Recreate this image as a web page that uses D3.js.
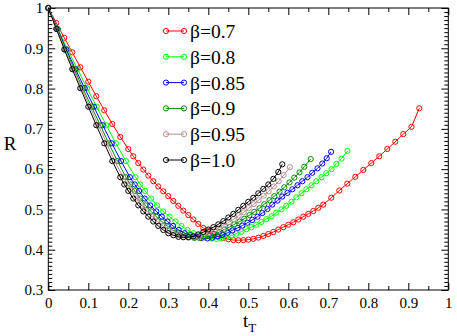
<!DOCTYPE html>
<html><head><meta charset="utf-8">
<script src="https://cdn.jsdelivr.net/npm/d3@7"></script>
<style>body{margin:0;background:#fff;} svg{display:block;}</style>
</head><body>
<svg id="c" width="457" height="336"></svg>
<script>
// ---- data ----
const seriesNames = ["β=0.7", "β=0.8", "β=0.85", "β=0.9", "β=0.95", "β=1.0"];
const seriesColors = ["#ff0000", "#00ff00", "#0000ff", "#008b00", "#bc8f8f", "#000000"];

const t07 = [0,.02,.04,.06,.08,.10,.12,.14,.16,.18,.20,.2125,.225,.2375,.25,.2625,.275,.2875,.30,.3125,.325,.3375,.35,.3625,.375,.3875,.40,.4125,.425,.4375,.45,.4625,.475,.4875,.50,.5125,.525,.5375,.55,.5625,.575,.5875,.60,.6125,.625,.6375,.65,.6625,.675,.6875,.7075,.7275,.7475,.7675,.7875,.8075,.8275,.8475,.8675,.8875,.908,.9275];
const r07 = [1,.963,.926,.890,.853,.817,.781,.746,.712,.680,.650,.632,.615,.599,.584,.570,.557,.545,.533,.521,.509,.497,.486,.475,.464,.454,.446,.439,.433,.429,.426,.424,.4235,.424,.425,.427,.430,.434,.439,.444,.450,.456,.462,.468,.475,.482,.489,.496,.504,.512,.529,.547,.564,.581,.598,.615,.632,.650,.668,.687,.705,.751];

const t08 = [0,.024,.048,.073,.097,.121,.145,.169,.194,.218,.23,.242,.257,.272,.287,.303,.318,.333,.348,.363,.378,.393,.408,.42,.433,.445,.458,.47,.483,.495,.508,.52,.533,.545,.558,.57,.583,.595,.608,.62,.633,.645,.658,.67,.683,.695,.708,.72,.733,.748];
const r08 = [1,.948,.897,.848,.801,.755,.709,.664,.620,.580,.562,.546,.527,.510,.495,.482,.470,.459,.449,.441,.436,.432,.428,.427,.428,.431,.435,.440,.445,.451,.456,.462,.469,.476,.483,.492,.500,.509,.519,.530,.540,.550,.560,.570,.580,.590,.600,.613,.626,.645];

const t085 = [0,.023,.045,.068,.091,.114,.136,.159,.182,.204,.216,.227,.241,.255,.27,.284,.298,.312,.326,.341,.355,.369,.383,.398,.41,.423,.435,.448,.46,.473,.485,.498,.51,.523,.535,.548,.56,.573,.585,.598,.61,.623,.635,.648,.66,.673,.685,.696,.707];
const r085 = [1,.948,.897,.848,.801,.755,.709,.664,.620,.580,.562,.546,.527,.510,.495,.482,.470,.459,.449,.441,.436,.432,.429,.428,.430,.433,.437,.442,.448,.454,.460,.467,.474,.482,.491,.501,.512,.522,.532,.541,.550,.560,.570,.580,.591,.602,.614,.627,.643];

const t09 = [0,.022,.043,.065,.086,.108,.13,.151,.173,.194,.205,.216,.23,.243,.257,.27,.284,.297,.311,.324,.338,.351,.365,.378,.39,.403,.415,.428,.44,.453,.465,.478,.49,.503,.515,.528,.54,.553,.565,.578,.59,.603,.615,.628,.64,.656];
const r09 = [1,.948,.897,.848,.801,.755,.709,.664,.620,.580,.562,.546,.527,.510,.495,.482,.470,.459,.449,.441,.436,.432,.429,.429,.431,.434,.439,.444,.450,.456,.463,.470,.477,.486,.494,.503,.513,.523,.533,.544,.555,.567,.579,.592,.606,.625];

const t095 = [0,.021,.042,.062,.083,.104,.125,.146,.166,.187,.198,.208,.221,.234,.247,.26,.273,.286,.299,.312,.325,.338,.351,.3635,.376,.3885,.401,.4135,.426,.4385,.451,.4635,.476,.4885,.501,.5135,.526,.5385,.551,.5635,.576,.5885,.604];
const r095 = [1,.948,.897,.848,.801,.755,.709,.664,.620,.580,.562,.546,.527,.510,.495,.482,.470,.459,.449,.441,.436,.432,.430,.431,.432,.436,.442,.448,.454,.461,.468,.476,.485,.493,.503,.513,.523,.534,.545,.557,.570,.585,.605];

const t10 = [0,.02,.04,.06,.08,.10,.12,.14,.16,.18,.19,.20,.2125,.225,.2375,.25,.2625,.275,.2875,.30,.3125,.325,.3375,.35,.3625,.375,.3875,.40,.4125,.425,.4375,.45,.4625,.475,.4875,.50,.5125,.525,.5375,.55,.5625,.575,.585];
const r10 = [1,.948,.897,.848,.801,.755,.709,.664,.620,.580,.562,.546,.527,.510,.495,.482,.470,.459,.449,.441,.436,.432,.431,.431,.433,.438,.444,.450,.456,.463,.471,.480,.489,.499,.509,.519,.529,.540,.551,.562,.576,.593,.612];

const xTickValues = [0,0.1,0.2,0.3,0.4,0.5,0.6,0.7,0.8,0.9,1];
const xTickLabels = ["0","0.1","0.2","0.3","0.4","0.5","0.6","0.7","0.8","0.9","1"];
const yTickValues = [0.3,0.4,0.5,0.6,0.7,0.8,0.9,1];
const yTickLabels = ["0.3","0.4","0.5","0.6","0.7","0.8","0.9","1"];

const seriesT = [t07, t08, t085, t09, t095, t10];
const seriesR = [r07, r08, r085, r09, r095, r10];

// ---- drawing ----
const svg = d3.select("#c");
const L = 48.3, R = 448.3, T = 8, B = 290;
const x = d3.scaleLinear().domain([0, 1]).range([L, R]);
const y = d3.scaleLinear().domain([0.3, 1]).range([B, T]);
const font = '"Liberation Serif", "DejaVu Serif", serif';

const xMinor = d3.range(0, 21).map(i => i * 0.05).filter((v, i) => i % 2 === 1);
const yMinor = d3.range(30, 101).map(i => i / 100).filter((v, i) => i % 10 !== 0);

function styleAxis(g) {
  g.attr("font-family", font);
  g.select(".domain").remove();
  g.selectAll(".tick line").attr("stroke", "#000").attr("stroke-width", 1);
  g.selectAll("text").attr("font-size", 15).attr("fill", "#000");
}

// bottom
svg.append("g").attr("transform", `translate(0,${B})`)
  .call(d3.axisBottom(x).tickValues(xTickValues).tickFormat((d, i) => xTickLabels[i]).tickSize(-7).tickPadding(7))
  .call(styleAxis);
svg.append("g").attr("transform", `translate(0,${B})`)
  .call(d3.axisBottom(x).tickValues(xMinor).tickFormat("").tickSize(-4))
  .call(styleAxis);
// top
svg.append("g").attr("transform", `translate(0,${T})`)
  .call(d3.axisTop(x).tickValues(xTickValues).tickFormat("").tickSize(-7))
  .call(styleAxis);
svg.append("g").attr("transform", `translate(0,${T})`)
  .call(d3.axisTop(x).tickValues(xMinor).tickFormat("").tickSize(-4))
  .call(styleAxis);
// left
svg.append("g").attr("transform", `translate(${L},0)`)
  .call(d3.axisLeft(y).tickValues(yTickValues).tickFormat((d, i) => yTickLabels[i]).tickSize(-7).tickPadding(5))
  .call(styleAxis);
svg.append("g").attr("transform", `translate(${L},0)`)
  .call(d3.axisLeft(y).tickValues(yMinor).tickFormat("").tickSize(-4))
  .call(styleAxis);
// right
svg.append("g").attr("transform", `translate(${R},0)`)
  .call(d3.axisRight(y).tickValues(yTickValues).tickFormat("").tickSize(-7))
  .call(styleAxis);
svg.append("g").attr("transform", `translate(${R},0)`)
  .call(d3.axisRight(y).tickValues(yMinor).tickFormat("").tickSize(-4))
  .call(styleAxis);

// frame
svg.append("rect").attr("x", L).attr("y", T).attr("width", R - L).attr("height", B - T)
  .attr("fill", "none").attr("stroke", "#000").attr("stroke-width", 1);

// series
const line = d3.line().x(d => x(d[0])).y(d => y(d[1]));
seriesNames.forEach((name, i) => {
  const pts = seriesT[i].map((t, j) => [t, seriesR[i][j]]);
  const g = svg.append("g");
  g.append("path").datum(pts).attr("d", line).attr("fill", "none")
    .attr("stroke", seriesColors[i]).attr("stroke-width", 1);
  g.selectAll("circle").data(pts).join("circle")
    .attr("cx", d => x(d[0])).attr("cy", d => y(d[1])).attr("r", 2.6)
    .attr("fill", "none").attr("stroke", seriesColors[i]).attr("stroke-width", 1);
});

// legend
const lg = svg.append("g").attr("font-family", font);
seriesNames.forEach((name, i) => {
  const cy = 31 + i * 25.8;
  lg.append("line").attr("x1", 166).attr("x2", 184).attr("y1", cy).attr("y2", cy)
    .attr("stroke", seriesColors[i]).attr("stroke-width", 1);
  [166, 184].forEach(cx => lg.append("circle").attr("cx", cx).attr("cy", cy).attr("r", 2.6)
    .attr("fill", "none").attr("stroke", seriesColors[i]).attr("stroke-width", 1));
  lg.append("text").attr("x", 190).attr("y", cy).attr("dy", "0.36em")
    .attr("font-size", 19.5).attr("fill", "#000").text(name);
});

// axis titles
svg.append("text").attr("x", 10).attr("y", 143).attr("text-anchor", "middle").attr("dy", "0.36em")
  .attr("font-family", font).attr("font-size", 19).attr("fill", "#000").text("R");
const xt = svg.append("text").attr("x", 243).attr("y", 327)
  .attr("font-family", font).attr("font-size", 19).attr("fill", "#000");
xt.append("tspan").text("t");
xt.append("tspan").attr("font-size", 13).attr("dy", 5).text("T");
</script>
</body></html>
